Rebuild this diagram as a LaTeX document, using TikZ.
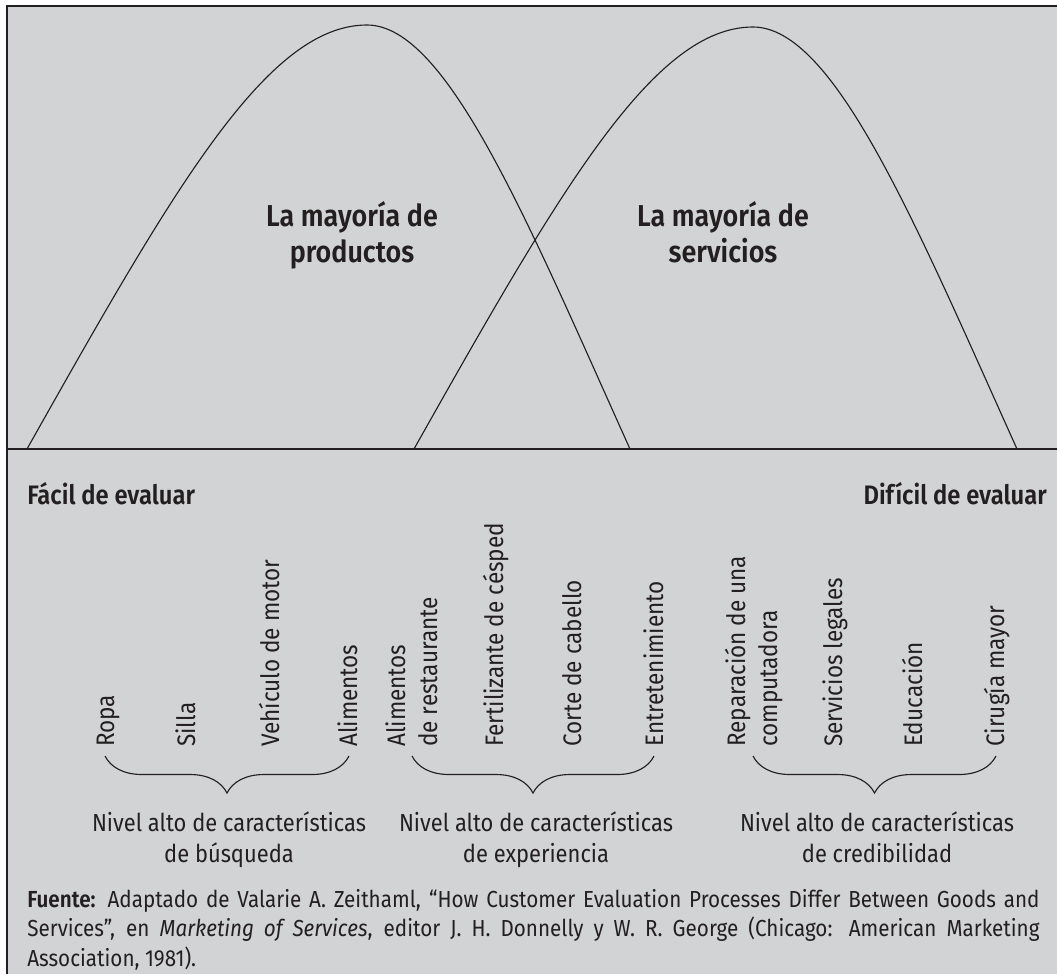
\documentclass[tikz,border=0pt]{standalone}
\usepackage{fontspec}
\setmainfont{Fira Sans}[FakeStretch=0.89,BoldFont={Fira Sans SemiBold}]
\usetikzlibrary{decorations.pathreplacing}
\definecolor{panel}{RGB}{209,211,212}
\definecolor{ink}{RGB}{35,31,32}
\tikzset{
  curve/.style={line width=0.8pt,ink},
  item/.style={rotate=90,anchor=base west,inner sep=0pt,align=left,text=ink,
    font=\fontsize{18}{22.7}\selectfont},
  group/.style={anchor=base,inner sep=0pt,align=center,text=ink,
    font=\fontsize{17.5}{22}\selectfont},
  bigtxt/.style={anchor=base,inner sep=0pt,align=center,text=ink,
    font=\fontsize{21.5}{25}\selectfont\bfseries},
  ends/.style={inner sep=0pt,text=ink,font=\fontsize{19}{23}\selectfont\bfseries},
  brc/.style={decorate,decoration={brace,mirror,amplitude=0.925cm},
    line width=0.8pt,ink}
}

\begin{document}
\begin{tikzpicture}[x=0.025cm,y=-0.025cm]
  \useasboundingbox (0,0) rectangle (1057,974);
  \fill[panel] (7,6) rectangle (1057,974);
  \draw[line width=1.4pt,ink] (7,974) -- (7,6) -- (1057,6);

  % Axis and the two curves
  \coordinate (axL) at (7,449);
  \coordinate (axR) at (1057,449);
  \draw[line width=1pt,ink] (axL) -- (axR);

  \coordinate (pA) at (27,449);
  \coordinate (pTop) at (367,25);
  \coordinate (pB) at (630,449);
  \draw[curve] (pA) .. controls (174,188) and (267,25) .. (pTop)
    .. controls (447,25) and (527.5,221.5) .. (pB);

  \coordinate (sA) at (414,449);
  \coordinate (sTop) at (753,27);
  \coordinate (sB) at (1017,449);
  \draw[curve] (sA) .. controls (561,188) and (654,27) .. (sTop)
    .. controls (834,27) and (914.5,221.5) .. (sB);

  % base = last line of a two-line node
  \node[bigtxt] (prod) at (352,262) {La mayoría de\\productos};
  \node[bigtxt] (serv) at (723,262) {La mayoría de\\servicios};

  \node[ends,anchor=base west] (easy) at (27,504) {Fácil de evaluar};
  \node[ends,anchor=base east] (hard) at (1047,504) {Difícil de evaluar};

  % Items
  \node[item] (ropa) at (114,747) {Ropa};
  \node[item] (silla) at (195,747) {Silla};
  \node[item] (auto) at (279,747) {Vehículo de motor};
  \node[item] (alim) at (357,747) {Alimentos};
  \node[item] (rest) at (437,747) {Alimentos\\de restaurante};
  \node[item] (fert) at (503,747) {Fertilizante de césped};
  \node[item] (pelo) at (581,747) {Corte de cabello};
  \node[item] (entr) at (663,747) {Entretenimiento};
  \node[item] (comp) at (777,747) {Reparación de una\\computadora};
  \node[item] (legal) at (842,747) {Servicios legales};
  \node[item] (educ) at (922,747) {Educación};
  \node[item] (ciru) at (1004,747) {Cirugía mayor};

  % Braces
  \coordinate (b1L) at (105,756);
  \coordinate (b1R) at (349,756);
  \coordinate (b2L) at (412,756);
  \coordinate (b2R) at (654,756);
  \coordinate (b3L) at (753,756);
  \coordinate (b3R) at (996,756);
  \draw[brc] (b1L) -- (b1R);
  \draw[brc] (b2L) -- (b2R);
  \draw[brc] (b3L) -- (b3R);

  \node[group] (busq) at (229,862) {Nivel alto de características\\de búsqueda};
  \node[group] (expe) at (536,862) {Nivel alto de características\\de experiencia};
  \node[group] (cred) at (877,862) {Nivel alto de características\\de credibilidad};

  \node[anchor=base west,inner sep=0pt,text width=25.3cm,align=justify,text=ink,
    font=\fontsize{16.5}{21}\selectfont] (src) at (27,907)
    {\textbf{Fuente:} Adaptado de Valarie A. Zeithaml, “How Customer Evaluation
    Processes Differ Between Goods and\linebreak Services", en \textit{Marketing of
    Services}, editor J. H. Donnelly y W. R. George (Chicago: American
    Marketing\linebreak Association, 1981).};
\end{tikzpicture}
\end{document}
